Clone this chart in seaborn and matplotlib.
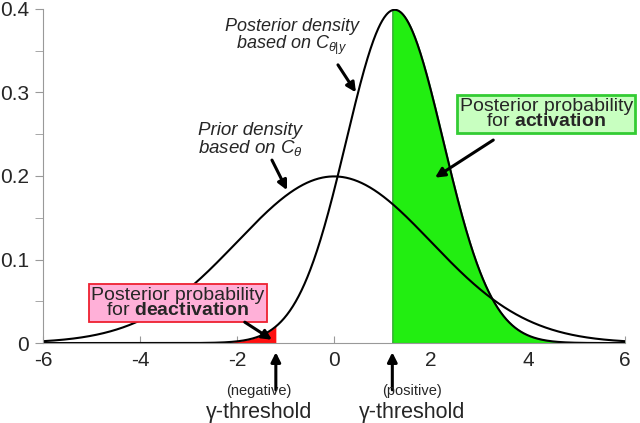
import numpy as np
import pandas as pd
import matplotlib
matplotlib.use("Agg")
import matplotlib.pyplot as plt
import seaborn as sns

# Densities: prior N(0, 2), posterior peak ~0.4 at ~1.25
prior_mean, prior_sd = 0.0, 2.0
post_mean, post_sd = 1.25, 1.0
neg_threshold, pos_threshold = -1.2, 1.2
x_ticks = [-6, -4, -2, 0, 2, 4, 6]
y_ticks = [0, 0.1, 0.2, 0.3, 0.4]


def normal_pdf(x, mu, sd):
    return np.exp(-0.5 * ((x - mu) / sd) ** 2) / (sd * np.sqrt(2 * np.pi))


sns.set_style("ticks")
plt.rcParams['font.family'] = ['Liberation Sans', 'DejaVu Sans']
plt.rcParams['axes.unicode_minus'] = False
plt.rcParams['mathtext.fontset'] = 'custom'
plt.rcParams['mathtext.it'] = 'Liberation Sans:italic'
plt.rcParams['mathtext.rm'] = 'Liberation Sans'
plt.rcParams['mathtext.bf'] = 'Liberation Sans:bold'

xs = np.linspace(-6, 6, 1201)
df = pd.DataFrame({
    'x': np.concatenate([xs, xs]),
    'density': np.concatenate([normal_pdf(xs, prior_mean, prior_sd),
                               normal_pdf(xs, post_mean, post_sd)]),
    'curve': ['prior'] * len(xs) + ['posterior'] * len(xs),
})

fig = plt.figure(figsize=(6.4, 4.23), dpi=100)
ax = fig.add_axes([0.067, 0.189, 0.91, 0.79])

post = df[df.curve == 'posterior']
act = post[post.x >= pos_threshold]
deact = post[post.x <= neg_threshold]
ax.fill_between(act.x, act.density, color='#22ee11', edgecolor='#33aa33', lw=1)
ax.fill_between(deact.x, deact.density, color='#ff1010', lw=0)

sns.lineplot(data=df, x='x', y='density', units='curve', estimator=None,
             color='black', lw=1.5, ax=ax, legend=False)

ax.set_xlim(-6, 6)
ax.set_ylim(0, 0.4)
ax.set_xticks(x_ticks)
ax.set_xticklabels([str(t) for t in x_ticks])
ax.set_yticks(y_ticks)
ax.set_yticklabels(['0', '0.1', '0.2', '0.3', '0.4'])
ax.set_yticks(np.arange(0.05, 0.4, 0.1), minor=True)
ax.tick_params(axis='x', direction='in', length=5, color='#999999',
               labelsize=15, pad=6)
ax.tick_params(axis='y', direction='out', length=6, color='#999999',
               labelsize=15, pad=4)
ax.tick_params(axis='y', which='minor', direction='out', length=6,
               color='#999999')
ax.set_xlabel('')
ax.set_ylabel('')
sns.despine(ax=ax)
for s in ['left', 'bottom']:
    ax.spines[s].set_color('#999999')

arrow = dict(arrowstyle='-|>', color='black', lw=2.2, mutation_scale=14,
             shrinkA=0, shrinkB=0)

ax.text(-0.87, 0.366, 'Posterior density\nbased on $C_{\\theta|y}$',
        ha='center', va='center', fontsize=13, style='italic',
        linespacing=0.95)
ax.annotate('', xy=(0.45, 0.30), xytext=(0.08, 0.333), arrowprops=arrow)

ax.text(-1.73, 0.243, 'Prior density\nbased on $C_{\\theta}$', ha='center',
        va='center', fontsize=13.5, style='italic', linespacing=0.95)
ax.annotate('', xy=(-0.97, 0.183), xytext=(-1.28, 0.219), arrowprops=arrow)

ax.text(-3.22, 0.048, 'Posterior probability\nfor $\\bf{deactivation}$',
        ha='center', va='center', fontsize=14, linespacing=0.9,
        bbox=dict(boxstyle='square,pad=0.12', fc='#ffb0d8', ec='#ee2030',
                  lw=1.3))
ax.annotate('', xy=(-1.28, 0.004), xytext=(-1.84, 0.025), arrowprops=arrow)

ax.text(4.37, 0.274, 'Posterior probability\nfor $\\bf{activation}$',
        ha='center', va='center', fontsize=14, linespacing=0.9,
        bbox=dict(boxstyle='square,pad=0.12', fc='#c8ffc0', ec='#33cc33',
                  lw=2))
ax.annotate('', xy=(2.08, 0.198), xytext=(3.28, 0.243), arrowprops=arrow)

for thr, word, tx in [(neg_threshold, '(negative)', -1.55),
                      (pos_threshold, '(positive)', 1.6)]:
    ax.annotate('', xy=(thr, -0.011), xytext=(thr, -0.056),
                arrowprops=arrow, annotation_clip=False)
    ax.text(tx, -0.0575, word, ha='center', va='center', fontsize=10.5,
            clip_on=False)
    ax.text(tx, -0.0835, 'γ-threshold', ha='center', va='center',
            fontsize=15.5, clip_on=False)

fig.savefig('out.png', dpi=100)
